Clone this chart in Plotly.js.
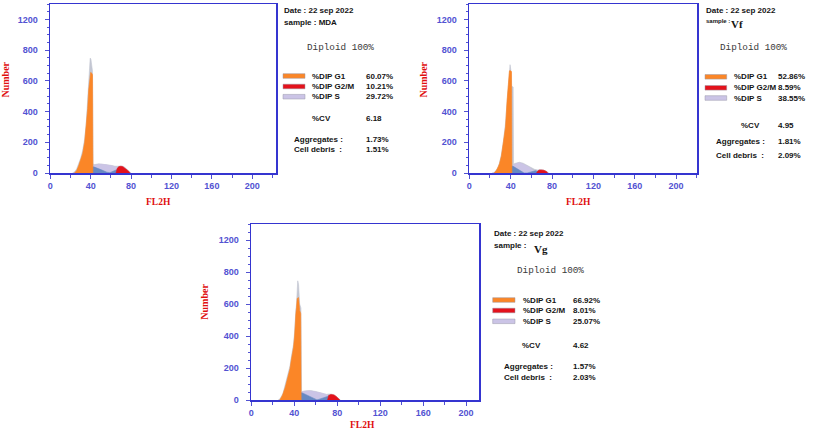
<!DOCTYPE html>
<html>
<head>
<meta charset="utf-8">
<script src="https://cdn.plot.ly/plotly-3.0.1.min.js"></script>
<style>
  html, body { margin: 0; padding: 0; background: #ffffff; }
  #chart { width: 817px; height: 434px; }
</style>
</head>
<body>
<div id="chart"></div>
<script>
// ---------------- DATA ----------------
const samples = ['MDA', 'Vf', 'Vg'];
const dateText = 'Date : 22 sep 2022';
const ploidyText = 'Diploid 100%';
const pctG1 = ['60.07%', '52.86%', '66.92%'];
const pctG2M = ['10.21%', '8.59%', '8.01%'];
const pctS = ['29.72%', '38.55%', '25.07%'];
const cvVals = ['6.18', '4.95', '4.62'];
const aggregates = ['1.73%', '1.81%', '1.57%'];
const cellDebris = ['1.51%', '2.09%', '2.03%'];

const xTickVals = [0, 40, 80, 120, 160, 200];
const yTickVals = [0, 200, 400, 600, 800, 1000];
const yTickText = ['0', '200', '400', '600', '800', '1200'];

// MDA histogram (FL2H channel vs number of events)
const mdaTotalX = [22, 24, 26, 28, 30, 32, 34, 35.5, 37, 38, 39, 39.5, 40.2, 41, 41.8, 42.4, 44, 48, 52, 56, 60, 64, 66, 68, 70, 72, 74, 76, 78, 80];
const mdaTotalY = [0, 8, 25, 58, 95, 145, 220, 315, 455, 575, 655, 748, 742, 690, 662, 58, 55, 60, 58, 54, 50, 44, 42, 44, 46, 44, 36, 26, 10, 0];
const mdaG1X = [24, 26, 28, 30, 32, 34, 35.5, 37, 38, 39, 40, 41, 41.8, 42.2];
const mdaG1Y = [0, 15, 45, 80, 125, 200, 290, 420, 540, 600, 655, 650, 640, 0];
const mdaSX = [40, 42, 46, 50, 54, 58, 62, 66, 70, 74, 76];
const mdaSY = [0, 46, 53, 57, 55, 51, 45, 36, 28, 14, 0];
const mdaOvX = [26, 34, 43, 50, 56, 59, 63, 68, 73];
const mdaOvY = [0, 18, 40, 22, 5, 2, 12, 28, 0];
const mdaG2X = [65, 66.4, 68, 70, 72, 74, 76, 78, 79];
const mdaG2Y = [0, 32, 42, 44, 40, 32, 20, 8, 0];

// Vf histogram
const vfTotalX = [22, 24.5, 27, 29, 31, 33, 35, 36.5, 37.8, 38.8, 39.4, 40.2, 41, 42.4, 42.8, 45, 48.5, 52, 56, 60, 63, 66, 70, 74, 77];
const vfTotalY = [0, 6, 27, 62, 118, 205, 325, 475, 605, 672, 705, 670, 565, 560, 58, 64, 70, 64, 50, 37, 24, 20, 22, 13, 0];
const vfG1X = [24, 26, 28, 29.2, 31, 32.4, 34, 35, 36.5, 37.8, 38.8, 40, 40.8, 41.2];
const vfG1Y = [0, 15, 40, 60, 110, 170, 250, 300, 470, 600, 665, 665, 660, 0];
const vfSX = [41, 42, 45, 48.4, 52, 56, 58, 61, 64.5, 66];
const vfSY = [0, 50, 60, 67, 58, 45, 37, 19, 5, 0];
const vfOvX = [27, 35, 42, 46, 50, 53, 56, 60, 64, 67, 69];
const vfOvY = [0, 20, 45, 30, 12, 0, 0, 10, 15, 8, 0];
const vfG2X = [65, 66.5, 68, 70, 72, 74, 76];
const vfG2Y = [0, 15, 20, 20, 18, 12, 0];

// Vg histogram
const vgTotalX = [25, 27, 29.5, 31.6, 33, 34.7, 36, 37.1, 38.3, 39.3, 40.3, 40.8, 41.5, 42.1, 42.7, 43.2, 44, 45, 46.2, 46.8, 50, 55, 60, 65, 70, 72, 75, 78, 81, 83];
const vgTotalY = [0, 10, 42, 92, 132, 168, 212, 262, 302, 348, 425, 512, 562, 602, 652, 745, 722, 600, 575, 52, 57, 59, 53, 44, 35, 37, 37, 28, 10, 0];
const vgG1X = [26.5, 29, 31.6, 33, 34.7, 36, 37.1, 38.3, 39.3, 40.3, 40.8, 41.5, 42.1, 42.7, 44, 45, 46, 46.4];
const vgG1Y = [0, 30, 80, 115, 150, 195, 245, 285, 330, 400, 490, 540, 580, 635, 640, 560, 540, 0];
const vgSX = [45.5, 46.4, 48, 52, 56, 60, 64, 68, 71, 72.5];
const vgSY = [0, 48, 52, 57, 56, 52, 45, 38, 31, 0];
const vgOvX = [28.6, 38, 47, 52, 57, 60.8, 62, 67, 73, 76.5];
const vgOvY = [0, 20, 46, 30, 12, 2, 2, 14, 27, 0];
const vgG2X = [71, 72, 74, 75.5, 77, 79, 81, 82.5];
const vgG2Y = [0, 28, 34, 35, 32, 22, 10, 0];

// ---------------- STYLE ----------------
const W = 817, H = 434;
const colTotal = '#c3c6d2';
const colS = '#cbc4e6';
const colOv = '#6789c2';
const colG1 = '#fb8627';
const colG2 = '#e3121b';
const frameCol = '#3535d0';
const tickCol = '#5252d2';
const redTitle = '#e01010';

const px = v => v / W;
const py = v => 1 - v / H;

function area(x, y, color, ax) {
  return {
    type: 'scatter', mode: 'lines', x: x, y: y,
    fill: 'tozeroy', fillcolor: color,
    line: { color: color, width: 0.6 },
    xaxis: 'x' + ax, yaxis: 'y' + ax,
    hoverinfo: 'skip', showlegend: false
  };
}

const panels = [
  { ax: '', sets: [mdaTotalX, mdaTotalY, mdaSX, mdaSY, mdaOvX, mdaOvY, mdaG1X, mdaG1Y, mdaG2X, mdaG2Y] },
  { ax: '2', sets: [vfTotalX, vfTotalY, vfSX, vfSY, vfOvX, vfOvY, vfG1X, vfG1Y, vfG2X, vfG2Y] },
  { ax: '3', sets: [vgTotalX, vgTotalY, vgSX, vgSY, vgOvX, vgOvY, vgG1X, vgG1Y, vgG2X, vgG2Y] }
];
const colsOrder = [colTotal, colS, colOv, colG1, colG2];

const traces = [];
panels.forEach(p => {
  for (let i = 0; i < 5; i++) {
    traces.push(area(p.sets[2 * i], p.sets[2 * i + 1], colsOrder[i], p.ax));
  }
});

function xAxis(domain, range, anchor) {
  return {
    domain: domain, range: range, anchor: anchor,
    showline: true, mirror: true, linecolor: frameCol, linewidth: 1.5,
    showgrid: false, zeroline: false,
    ticks: 'outside', ticklen: 4, tickwidth: 1, tickcolor: tickCol,
    tickvals: xTickVals, ticklabelstandoff: 0,
    minor: { dtick: 20, ticks: 'outside', ticklen: 3, tickcolor: tickCol, showgrid: false },
    tickfont: { family: 'Liberation Sans, Arial, sans-serif', size: 9, color: tickCol, weight: 'bold' }
  };
}
function yAxis(domain, anchor) {
  return {
    domain: domain, range: [0, 1100], anchor: anchor,
    showline: true, mirror: true, linecolor: frameCol, linewidth: 1.5,
    showgrid: false, zeroline: false,
    ticks: 'outside', ticklen: 4, tickwidth: 1, tickcolor: tickCol,
    tickvals: yTickVals, ticktext: yTickText, ticklabelstandoff: 5,
    minor: { dtick: 50, ticks: 'outside', ticklen: 2, tickcolor: tickCol, showgrid: false },
    tickfont: { family: 'Liberation Sans, Arial, sans-serif', size: 9, color: tickCol, weight: 'bold' }
  };
}

const ann = [];
const shapes = [];
const sansB = { family: 'Liberation Sans, Arial, sans-serif', size: 8, color: '#141414', weight: 'bold' };
const sansSmall = { family: 'Liberation Sans, Arial, sans-serif', size: 6, color: '#141414', weight: 'bold' };
function txt(t, x, y, font, extra) {
  ann.push(Object.assign({
    text: t, x: px(x), y: py(y), xref: 'paper', yref: 'paper',
    xanchor: 'left', yanchor: 'middle', showarrow: false, font: font, borderpad: 0
  }, extra || {}));
}
function swatch(x0, x1, y0, y1, color) {
  shapes.push({ type: 'rect', xref: 'paper', yref: 'paper',
    x0: px(x0), x1: px(x1), y0: py(y1), y1: py(y0),
    fillcolor: color, line: { color: '#9a9aa8', width: 0.5 } });
}

// text block positions (pixels) for each panel
const blocks = [
  { dx: 283, sy: 22, smx: 0, big: false, small: false, dipX: 306, dipY: 48, swX: [283, 305], swY: [76, 86.5, 96.7], labX: 311, valX: 365, labY: [76, 86.5, 96.7], cvX: 311, cvY: 118, agX: 293, agY: 140, dbY: 150, dateY: 11 },
  { dx: 705, sy: 21, smx: 730, big: true, small: true, dipX: 719, dipY: 47.5, swX: [705, 726.7], swY: [76.8, 87.8, 98], labX: 732.7, valX: 777.3, labY: [76.7, 87.7, 98.3], cvX: 740, cvY: 126, agX: 715, agY: 141.7, dbY: 155, dateY: 11 },
  { dx: 493.3, sy: 245, smx: 533.3, big: true, small: false, dipX: 516, dipY: 270.7, swX: [492.7, 515], swY: [300, 310.5, 321.3], labX: 521.7, valX: 571.7, labY: [300, 310.7, 321.3], cvX: 521, cvY: 345, agX: 503.3, agY: 366.7, dbY: 377.3, dateY: 233.3 }
];
const swCols = [colG1, colG2, colS];
const labs = ['%DIP G1', '%DIP G2/M', '%DIP S'];

blocks.forEach((b, i) => {
  txt(dateText, b.dx, b.dateY, sansB);
  if (b.big) {
    txt('sample :', b.dx, b.sy, b.small ? sansSmall : sansB);
    txt(samples[i], b.smx, b.sy + 3.5, { family: 'Liberation Serif, Times New Roman, serif', size: 11, color: '#141414', weight: 'bold' });
  } else {
    txt('sample : ' + samples[i], b.dx, b.sy, sansB);
  }
  txt(ploidyText, b.dipX, b.dipY, { family: 'Liberation Mono, Courier New, monospace', size: 9.3, color: '#3a3a3a' });
  const vals = [pctG1[i], pctG2M[i], pctS[i]];
  for (let k = 0; k < 3; k++) {
    swatch(b.swX[0], b.swX[1], b.swY[k] - 2.3, b.swY[k] + 2.3, swCols[k]);
    txt(labs[k], b.labX, b.labY[k], sansB);
    txt(vals[k], b.valX, b.labY[k], sansB);
  }
  txt('%CV', b.cvX, b.cvY, sansB);
  txt(cvVals[i], b.valX, b.cvY, sansB);
  txt('Aggregates :', b.agX, b.agY, sansB);
  txt(aggregates[i], b.valX, b.agY, sansB);
  txt('Cell debris  :', b.agX, b.dbY, sansB);
  txt(cellDebris[i], b.valX, b.dbY, sansB);
});

// axis titles
const titleFont = { family: 'Liberation Serif, Times New Roman, serif', size: 10, color: redTitle, weight: 'bold' };
[[5, 79.5], [423, 79.5], [203.7, 302]].forEach(p => {
  ann.push({ text: 'Number', x: px(p[0]), y: py(p[1]), xref: 'paper', yref: 'paper',
    xanchor: 'center', yanchor: 'middle', textangle: -90, showarrow: false, font: titleFont });
});
[[158, 201.5], [578, 201.5], [362, 425]].forEach(p => {
  ann.push({ text: 'FL2H', x: px(p[0]), y: py(p[1]), xref: 'paper', yref: 'paper',
    xanchor: 'center', yanchor: 'middle', showarrow: false,
    font: { family: 'Liberation Serif, Times New Roman, serif', size: 9.5, color: redTitle, weight: 'bold' } });
});

const layout = {
  width: W, height: H,
  margin: { l: 0, r: 0, t: 0, b: 0 },
  paper_bgcolor: '#ffffff', plot_bgcolor: '#ffffff',
  showlegend: false,
  xaxis: xAxis([px(50), px(276)], [-0.3, 223.5], 'y'),
  yaxis: yAxis([py(173), py(4)], 'x'),
  xaxis2: xAxis([px(469), px(697)], [-0.3, 220.2], 'y2'),
  yaxis2: yAxis([py(173), py(4)], 'x2'),
  xaxis3: xAxis([px(251), px(479)], [-0.3, 212], 'y3'),
  yaxis3: yAxis([py(400), py(224)], 'x3'),
  annotations: ann,
  shapes: shapes
};

Plotly.newPlot('chart', traces, layout, { displayModeBar: false, staticPlot: true });
</script>
</body>
</html>
